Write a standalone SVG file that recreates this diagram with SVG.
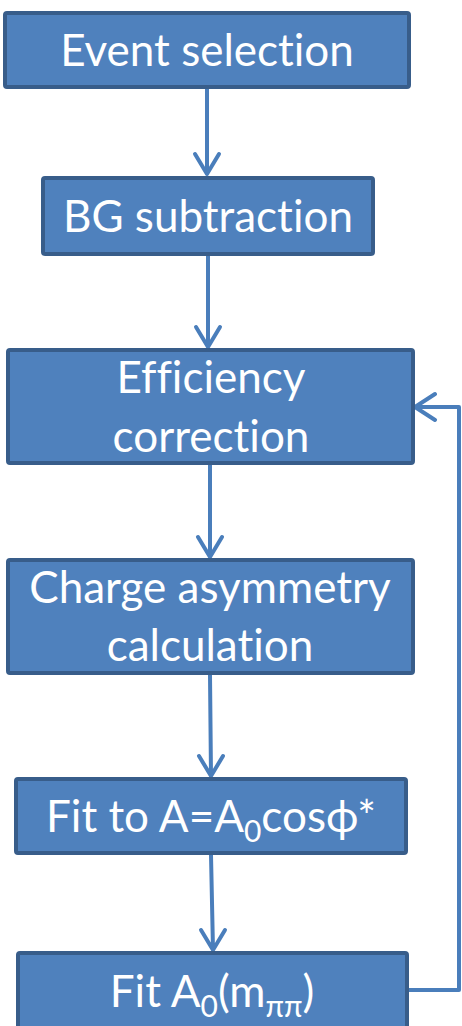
<svg xmlns="http://www.w3.org/2000/svg" width="462" height="1026" viewBox="0 0 462 1026">
<style>
.box{fill:#4f81bd;stroke:#385d8a;stroke-width:4}
.t{font-family:Lato,"Liberation Sans",sans-serif;font-size:44px;fill:#ffffff;text-anchor:middle;font-variant-ligatures:none;font-feature-settings:"liga" 0}
.sub{font-size:30px}
.c{fill:none;stroke:#4a7ebb;stroke-width:4;stroke-linecap:round;stroke-linejoin:round}
</style>
<rect width="462" height="1026" fill="#ffffff"/>
<g id="connectors">
<path class="c" d="M207 89 V174 M195 154 L207 174 L219 154"/>
<path class="c" d="M208 256 V347 M196 327 L208 347 L220 327"/>
<path class="c" d="M210 465 V557 M198 537 L210 557 L222 537"/>
<path class="c" d="M210 675 L211 776 M199 756 L211 776 L223 756"/>
<path class="c" d="M211 855 L213 950 M201 930 L213 950 L225 930"/>
<path class="c" d="M409 990 H459 V407 H415 M435 394 L415 407 L435 420"/>
</g>
<g id="n1"><rect class="box" x="5" y="13" width="404" height="74" rx="2"/><text class="t" x="207" y="66">Event selection</text></g>
<g id="n2"><rect class="box" x="43" y="178" width="330" height="76" rx="2"/><text class="t" x="208" y="232">BG subtraction</text></g>
<g id="n3"><rect class="box" x="8" y="350" width="405" height="113" rx="2"/><text class="t" x="211" y="393">Efficiency</text><text class="t" x="211" y="452">correction</text></g>
<g id="n4"><rect class="box" x="8" y="560" width="405" height="113" rx="2"/><text class="t" x="210" y="603">Charge asymmetry</text><text class="t" x="210" y="661">calculation</text></g>
<g id="n5"><rect class="box" x="16" y="779" width="390" height="74" rx="2"/><text class="t" x="211" y="832">Fit to A=A<tspan class="sub" dy="10">0</tspan><tspan dy="-10">cosϕ*</tspan></text></g>
<g id="n6"><rect class="box" x="18" y="953" width="389" height="80" rx="2"/><text class="t" x="212" y="1007">Fit A<tspan class="sub" dy="10">0</tspan><tspan dy="-10">(m</tspan><tspan class="sub" dy="10">ππ</tspan><tspan dy="-10">)</tspan></text></g>
</svg>
